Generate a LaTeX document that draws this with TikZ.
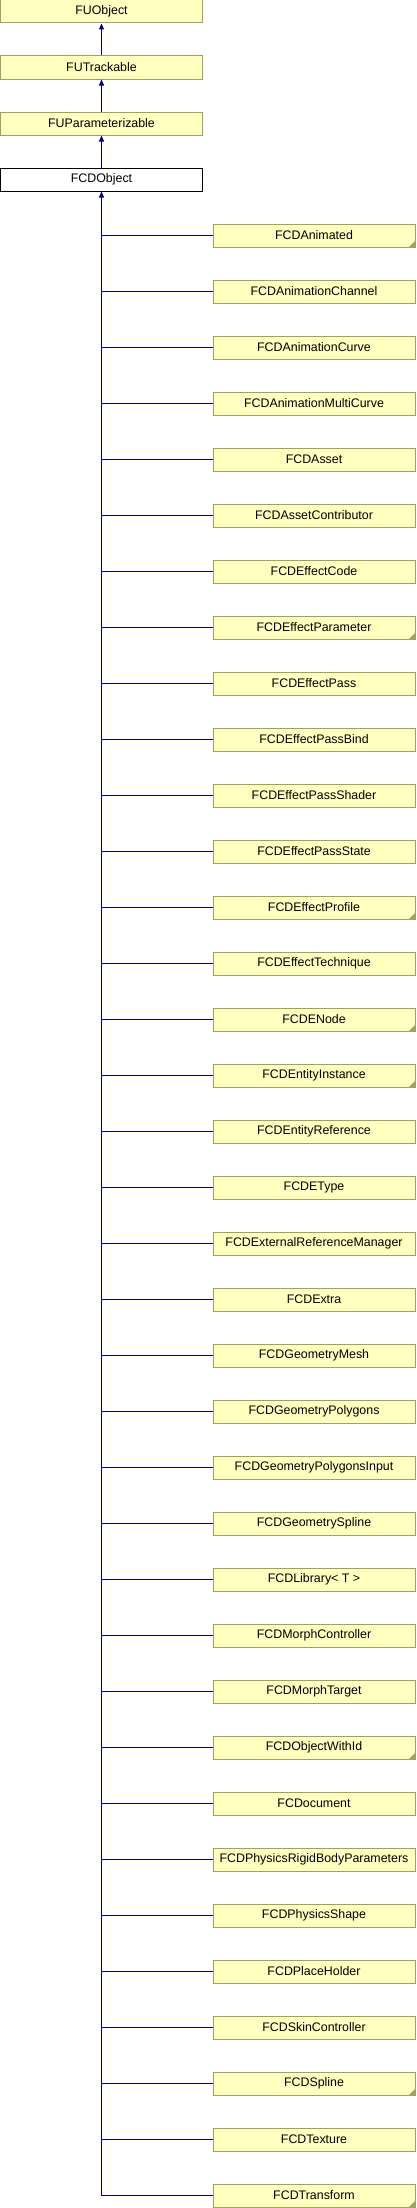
\documentclass[tikz,border=0pt]{standalone}
\usepackage{fontspec}
\setmainfont{Liberation Sans}
\usetikzlibrary{arrows.meta}
\definecolor{boxfill}{RGB}{255,255,192}
\definecolor{boxline}{RGB}{160,160,96}
\definecolor{edgecol}{RGB}{0,0,128}
\tikzset{
  cls/.style={draw=boxline, fill=boxfill, line width=1pt, minimum width=202pt, minimum height=23pt, inner sep=0pt, font=\fontsize{12.4}{14}\selectfont},
  cur/.style={cls, draw=black, fill=white},
  inh/.style={draw=edgecol, line width=1pt, -{Triangle[length=6pt,width=5pt]}},
  link/.style={draw=edgecol, line width=1pt},
  corner/.style={fill=boxline, draw=none}
}
\begin{document}
\begin{tikzpicture}[x=1pt,y=-1pt]
\useasboundingbox (0,0) rectangle (416,2208);
\node[cls] (p0) at (101.5,11.5) {FUObject};
\node[cls] (p1) at (101.5,67.5) {FUTrackable};
\node[cls] (p2) at (101.5,123.5) {FUParameterizable};
\node[cur] (p3) at (101.5,179.5) {FCDObject};
\draw[inh] (p1.north) -- (p0.south);
\draw[inh] (p2.north) -- (p1.south);
\foreach [count=\i from 0] \name/\mk in {
 FCDAnimated/1, FCDAnimationChannel/0, FCDAnimationCurve/0, FCDAnimationMultiCurve/0,
 FCDAsset/0, FCDAssetContributor/0, FCDEffectCode/0, FCDEffectParameter/1,
 FCDEffectPass/0, FCDEffectPassBind/0, FCDEffectPassShader/0, FCDEffectPassState/0,
 FCDEffectProfile/1, FCDEffectTechnique/0, FCDENode/1, FCDEntityInstance/1,
 FCDEntityReference/0, FCDEType/0, FCDExternalReferenceManager/0, FCDExtra/0,
 FCDGeometryMesh/0, FCDGeometryPolygons/0, FCDGeometryPolygonsInput/0, FCDGeometrySpline/0,
 {FCDLibrary< T >}/0, FCDMorphController/0, FCDMorphTarget/0, FCDObjectWithId/1,
 FCDocument/0, FCDPhysicsRigidBodyParameters/0, FCDPhysicsShape/0, FCDPlaceHolder/0,
 FCDSkinController/0, FCDSpline/1, FCDTexture/0, FCDTransform/1}
{
  \node[cls] (c\i) at (314,235.5+56*\i) {\name};
  \coordinate (j\i) at (101.5,235.5+56*\i);
  \draw[link] (j\i) -- (c\i.west);
  \ifnum\mk=1
    \fill[corner] ([xshift=-0.5pt,yshift=0.5pt]c\i.south east) -- ++(-6,0) -- ++(6,-6) -- cycle;
  \fi
}
\draw[inh] (j35) -- (p3.south);
\draw[inh] (p3.north) -- (p2.south);
\end{tikzpicture}
\end{document}
